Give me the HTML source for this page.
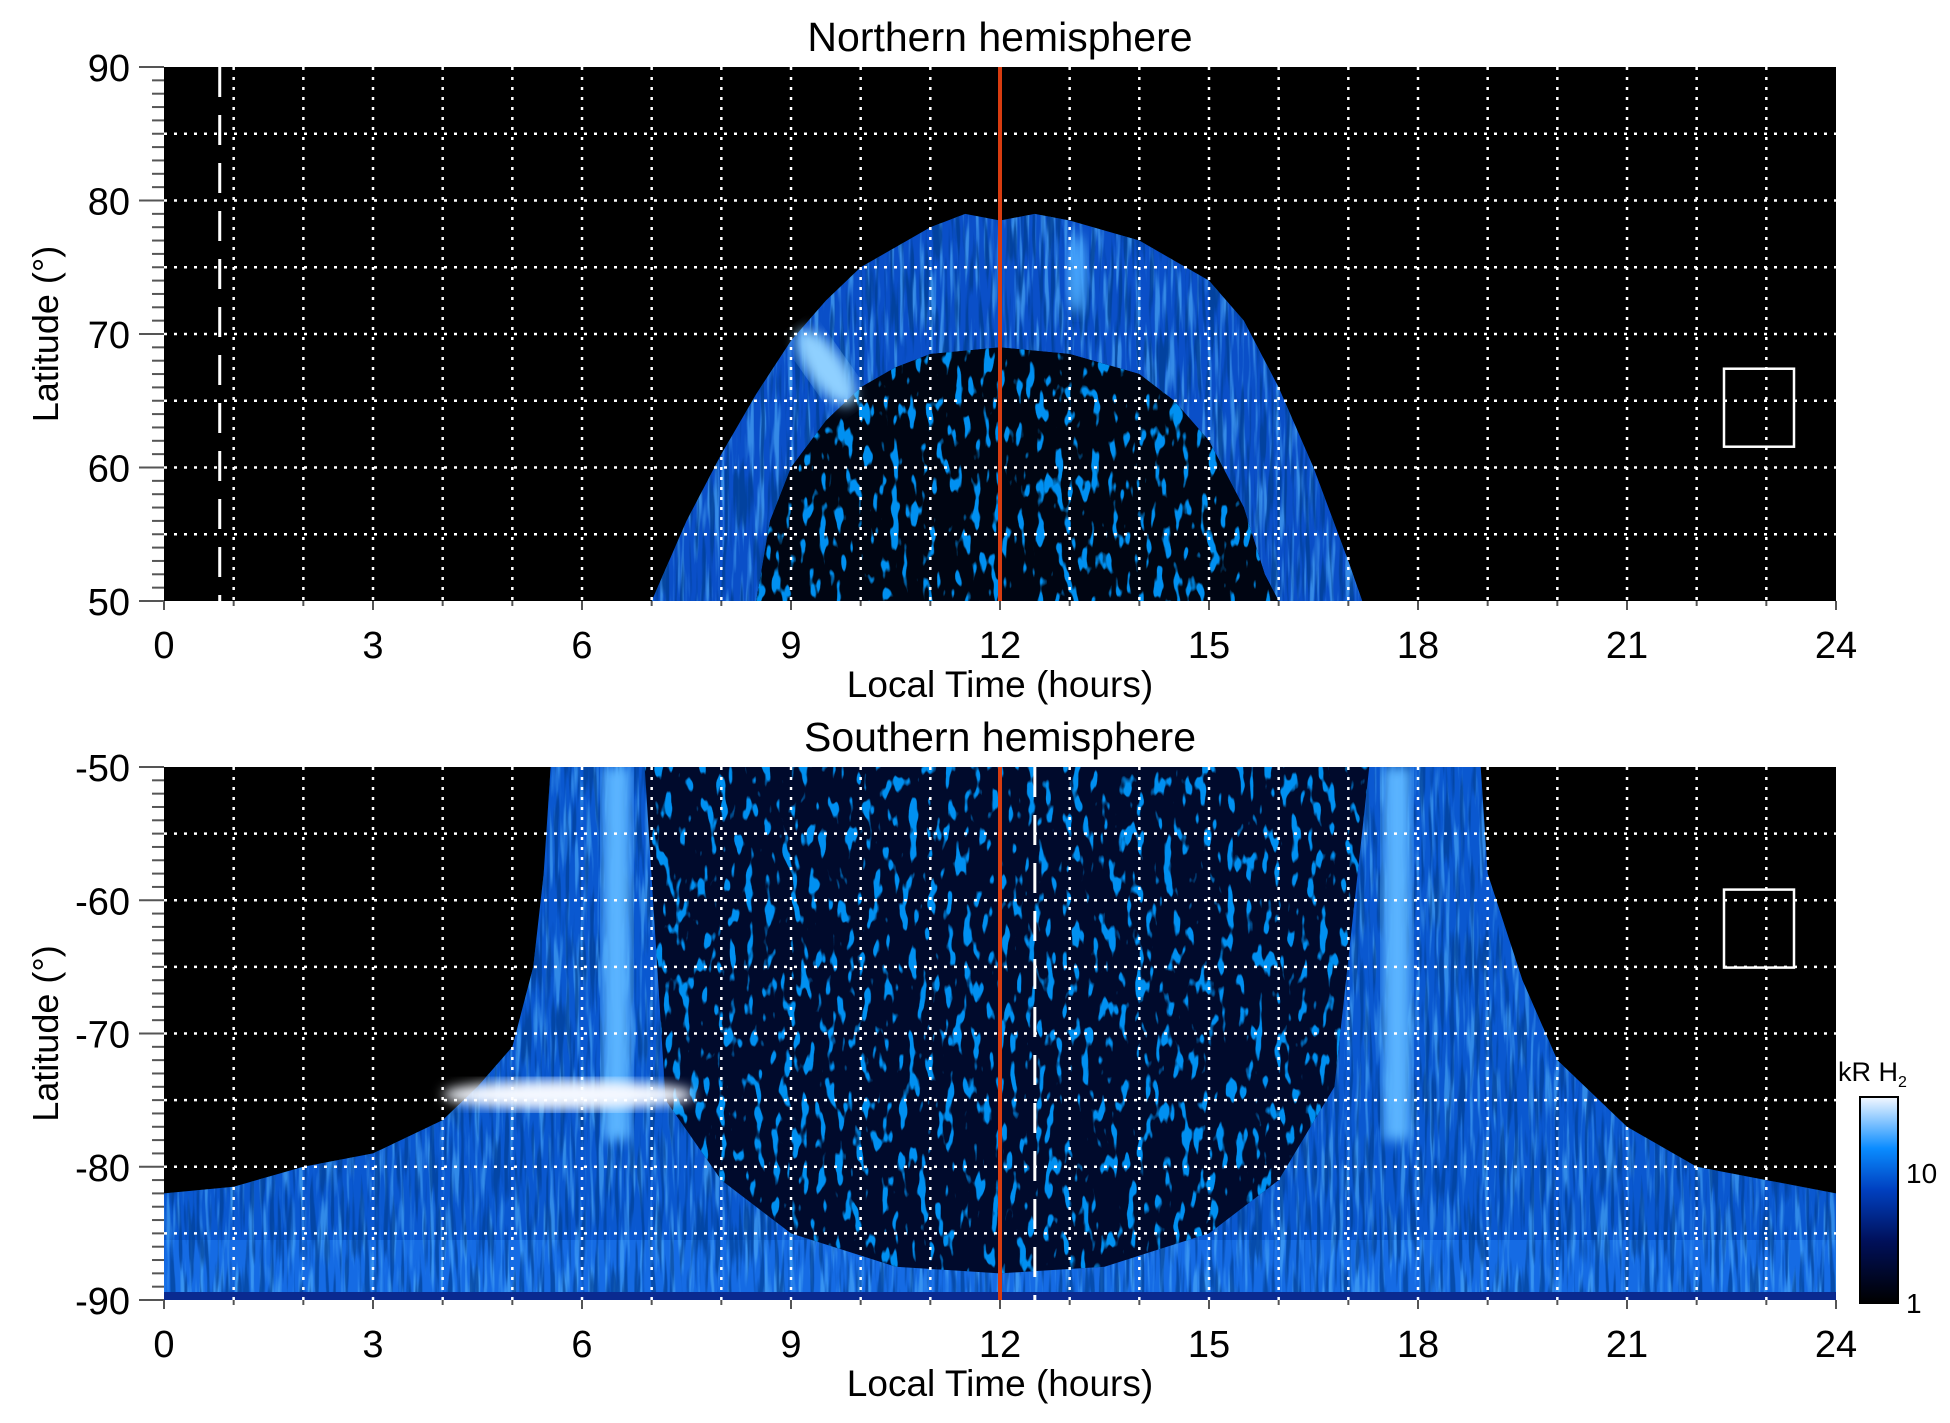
<!DOCTYPE html>
<html><head><meta charset="utf-8">
<style>
html,body{margin:0;padding:0;background:#fff;}
svg{display:block;font-family:"Liberation Sans",Arial,sans-serif;}
</style></head>
<body>
<svg id="fig" width="1950" height="1423" viewBox="0 0 1950 1423" xmlns="http://www.w3.org/2000/svg">
<defs id="defs">
  <filter id="speck" x="0" y="0" width="100%" height="100%">
    <feTurbulence type="fractalNoise" baseFrequency="0.11 0.04" numOctaves="2" seed="4" result="n"/>
    <feColorMatrix type="matrix" in="n" values="0 0 0 0 0  0 0 0 0 0.28  0 0 0 0 0.88  0 0 0 13 -7.6"/>
  </filter>
  <filter id="streak" x="0" y="0" width="100%" height="100%">
    <feTurbulence type="fractalNoise" baseFrequency="0.2 0.015" numOctaves="2" seed="9" result="n"/>
    <feColorMatrix type="matrix" in="n" values="0 0 0 0 0.1  0 0 0 0 0.5  0 0 0 0 1  0 0 0 5 -2.5"/>
  </filter>
  <filter id="dark" x="0" y="0" width="100%" height="100%">
    <feTurbulence type="fractalNoise" baseFrequency="0.2 0.015" numOctaves="2" seed="3" result="n"/>
    <feColorMatrix type="matrix" in="n" values="0 0 0 0 0  0 0 0 0 0.05  0 0 0 0 0.3  0 0 0 6 -3"/>
  </filter>
  <filter id="blur6"><feGaussianBlur stdDeviation="6"/></filter>
  <linearGradient id="cbar" x1="0" y1="1" x2="0" y2="0">
    <stop offset="0" stop-color="#000000"/>
    <stop offset="0.3" stop-color="#00105a"/>
    <stop offset="0.55" stop-color="#0040c0"/>
    <stop offset="0.75" stop-color="#0a8cff"/>
    <stop offset="1" stop-color="#f4f8ff"/>
  </linearGradient>
  <clipPath id="clipN"><rect x="164" y="67" width="1672" height="534"/></clipPath>
  <clipPath id="clipS"><rect x="164" y="767" width="1672" height="533"/></clipPath>
</defs>
<g id="north"></g>
<g id="south"></g>
<g id="cb"></g>
</svg>
<script>
// ---- data ----
const xTicks = [0,3,6,9,12,15,18,21,24];
const yTicksN = [50,60,70,80,90];
const yTicksS = [-90,-80,-70,-60,-50];
const cbTicks = [1,10];
// northern oval outer boundary (LT hours, latitude)
const nOuterLT  = [7,7.5,8,8.5,9,9.5,10,11,11.5,12,12.5,13,14,15,15.5,16,16.5,17,17.2];
const nOuterLat = [50,56,61,65.5,69.5,72.5,75,78,79,78.5,79,78.5,77,74,71,66,60,53,50];
const nInnerLT  = [8.5,8.7,9,9.5,10,10.5,11,12,13,14,14.5,15,15.5,15.8,16];
const nInnerLat = [50,56,60,63.5,66,67.5,68.5,69,68.5,67,65,62,57,52,50];
// southern emission boundary
const sOuterLT  = [0,1,2,3,4,4.5,5,5.3,5.45,5.55,18.9,19,19.5,20,21,22,23,24];
const sOuterLat = [-82,-81.5,-80,-79,-76.5,-74,-71,-65,-58,-50,-50,-58,-66,-72,-77,-80,-81,-82];
// southern dark polar region
const sCapLT  = [6.9,7.1,17.1,17.3,16.8,16,15,13.5,12,10.5,9,8,7.2];
const sCapLat = [-50,-50,-50,-50,-74,-81,-85,-87.5,-88,-87.5,-85,-81,-75];
const bandLT = [6.5,17.7];          // bright vertical bands
const dashN = 0.8, dashS = 12.5, noonLT = 12;
// ---- axes ----
const X0=164, X1=1836;
const xs = h => X0 + (X1-X0)*h/24;
const yN = l => 601 - (l-50)*(534/40);
const yS = l => 767 + (-50-l)*(533/40);
const NS="http://www.w3.org/2000/svg";
const defs=document.getElementById('defs');
let cpn=0;
function mk(tag, attrs, parent){const e=document.createElementNS(NS,tag);for(const k in attrs)e.setAttribute(k,attrs[k]);parent.appendChild(e);return e;}
function pts(lt,lat,ys){return lt.map((t,i)=>xs(t)+","+ys(lat[i])).join(" ");}
function noiseIn(points, filt, op, parent, top, bot){
  const id='cp'+(cpn++);
  const cp=mk('clipPath',{id:id},defs);
  mk('polygon',{points:points},cp);
  const g=mk('g',{'clip-path':`url(#${id})`,opacity:op},parent);
  mk('rect',{x:X0,y:top,width:X1-X0,height:bot-top,fill:'#000',filter:`url(#${filt})`},g);
  return g;
}

function panel(g, top, bot, ys, yTicks, title, isN){
  const bg = mk('rect',{x:X0,y:top,width:X1-X0,height:bot-top,fill:'#000'},g);
  
  
  const data = mk('g',{'clip-path':isN?'url(#clipN)':'url(#clipS)'},g);
  
  
  if(isN){
    const outer = pts(nOuterLT,nOuterLat,ys);
    const inner = nInnerLT.slice().reverse().map((t,i)=>xs(t)+","+ys(nInnerLat[nInnerLat.length-1-i])).join(" ");
    const oval = mk('polygon',{points:outer+" "+inner,fill:'#0a4fc8'},data);
    
    
    noiseIn(outer+" "+inner,'streak',0.55,data,top,bot);
    noiseIn(outer+" "+inner,'dark',0.8,data,top,bot);
    const cap = mk('polygon',{points:pts(nInnerLT,nInnerLat,ys),fill:'#000512'},data);
    
    
    noiseIn(pts(nInnerLT,nInnerLat,ys),'speck',1,data,top,bot);
    const spot = mk('ellipse',{cx:xs(9.5),cy:ys(67.5),rx:18,ry:45,fill:'#8fd0ff',filter:'url(#blur6)',transform:`rotate(-35 ${xs(9.5)} ${ys(67.5)})`},data);
    
    
    mk('ellipse',{cx:xs(13.1),cy:ys(74.5),rx:10,ry:40,fill:'#4aa8ff',filter:'url(#blur6)'},data);
  } else {
    const ep = pts(sOuterLT,sOuterLat,ys)+` ${xs(24)},${ys(-90)} ${xs(0)},${ys(-90)}`;
    const em = mk('polygon',{points:ep,fill:'#0a58d0'},data);
    
    
    mk('rect',{x:X0,y:ys(-90)-60,width:X1-X0,height:60,fill:'#1a74ec',opacity:0.7},data);
    noiseIn(ep,'streak',0.5,data,top,bot);
    noiseIn(ep,'dark',0.7,data,top,bot);
    bandLT.forEach(b=>{
      const r = mk('rect',{x:xs(b)-14,y:ys(-50),width:28,height:ys(-78)-ys(-50),fill:'#5ab4ff',filter:'url(#blur6)'},data);
      
      
    });
    const cp = pts(sCapLT,sCapLat,ys);
    const cap = mk('polygon',{points:cp,fill:'#000a2c'},data);
    
    
    noiseIn(cp,'speck',1,data,top,bot);
    const arc = mk('ellipse',{cx:xs(5.8),cy:ys(-74.6),rx:xs(7.6)-xs(5.8),ry:15,fill:'#f4f8ff',filter:'url(#blur6)'},data);
    
    
    mk('rect',{x:X0,y:ys(-90)-8,width:X1-X0,height:8,fill:'#0a2a90'},data);
  }
  for(let h=1;h<24;h++){
    const l=mk('line',{x1:xs(h),x2:xs(h),y1:top,y2:bot,stroke:'#fff','stroke-width':2.5,'stroke-dasharray':'3 7'},g);
    
    
  }
  for(let k=1;k<8;k++){
    const yy=top+k*(bot-top)/8;
    const l=mk('line',{x1:X0,x2:X1,y1:yy,y2:yy,stroke:'#fff','stroke-width':2.5,'stroke-dasharray':'3 7'},g);
    
    
  }
  const dx = isN?dashN:dashS;
  const dl=mk('line',{x1:xs(dx),x2:xs(dx),y1:top,y2:bot,stroke:'#fff','stroke-width':3,'stroke-dasharray':'30 18'},g);
  
  
  const nl=mk('line',{x1:xs(noonLT),x2:xs(noonLT),y1:top,y2:bot,stroke:'#d83c10','stroke-width':4},g);
  
  
  const by = isN? top+(bot-top)*0.565 : top+(bot-top)*0.23;
  const bx=mk('rect',{x:1724,y:by,width:70,height:78,fill:'none',stroke:'#fff','stroke-width':2.5},g);
  
  
  for(let h=0;h<=24;h++){
    const t=mk('line',{x1:xs(h),x2:xs(h),y1:bot,y2:bot+(h%3===0?9:5),stroke:'#555','stroke-width':2},g);
    
    
  }
  for(let l=0;l<=40;l++){
    const yy=top+l*(bot-top)/40;
    const t=mk('line',{x1:X0-(l%10===0?25:12),x2:X0,y1:yy,y2:yy,stroke:'#555','stroke-width':2},g);
    
    
  }
  xTicks.forEach(v=>{
    const t=mk('text',{x:xs(v),y:bot+57,'font-size':38,'text-anchor':'middle',fill:'#000'},g);
    t.textContent=v;
    
    
  });
  yTicks.forEach(v=>{
    const t=mk('text',{x:X0-34,y:ys(v)+14,'font-size':38,'text-anchor':'end',fill:'#000'},g);
    t.textContent=v;
    
    
  });
  const tt=mk('text',{x:(X0+X1)/2,y:top-16,'font-size':41,'text-anchor':'middle',fill:'#000'},g);
  tt.textContent=title;
  
  
  const xt=mk('text',{x:(X0+X1)/2,y:bot+96,'font-size':37,'text-anchor':'middle',fill:'#000'},g);
  xt.textContent='Local Time (hours)';
  
  
  const cy=(top+bot)/2;
  const yt=mk('text',{x:58,y:cy,'font-size':36,'text-anchor':'middle',fill:'#000',transform:`rotate(-90 58 ${cy})`},g);
  yt.textContent='Latitude (°)';
  
  
}
panel(document.getElementById('north'),67,601,yN,yTicksN,'Northern hemisphere',true);
panel(document.getElementById('south'),767,1300,yS,yTicksS,'Southern hemisphere',false);
// colorbar
const cb=document.getElementById('cb');
const CT=1097, CB=1303;
const r=mk('rect',{x:1860,y:CT,width:38,height:CB-CT,fill:'url(#cbar)',stroke:'#000','stroke-width':2},cb);


const cbY = v => CB - (Math.log10(v)-0)*(CB-CT)*0.63;
cbTicks.forEach(v=>{
  const t=mk('text',{x:1906,y:(v===1?CB:cbY(v))+10,'font-size':28,fill:'#000'},cb);
  t.textContent=v;
  
  
});
const lab=mk('text',{x:1838,y:1081,'font-size':27,fill:'#000'},cb);


lab.innerHTML='kR H<tspan font-size="16" dy="6">2</tspan>';
</script>
</body></html>
